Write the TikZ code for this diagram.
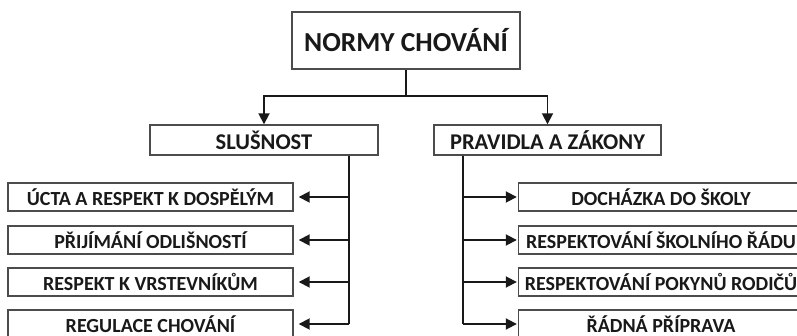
\documentclass[tikz,border=0pt]{standalone}
\usepackage{fontspec}
\setmainfont{Carlito}
\usetikzlibrary{arrows.meta}
\tikzset{
  box/.style={draw=black!70, line width=1.4pt, fill=white, inner sep=0pt, font=\bfseries, text=black!90},
  topbox/.style={box, minimum width=228pt, minimum height=57pt, font=\bfseries\fontsize{27.5}{30}\selectfont},
  midbox/.style={box, minimum width=228pt, minimum height=30pt, font=\bfseries\fontsize{22.5}{24}\selectfont},
  lowbox/.style={box, minimum width=285pt, minimum height=28pt, font=\bfseries\fontsize{20}{22}\selectfont},
  conn/.style={draw=black!90, line width=1.8pt},
  arr/.style={conn, -{Triangle[length=11pt,width=11pt]}},
}
\begin{document}
\begin{tikzpicture}[x=1pt,y=-1pt]
\useasboundingbox (0,0) rectangle (797,336);
\clip (0,0) rectangle (797,336);
\node[topbox] (top) at (406,40.5) {NORMY CHOVÁNÍ};
\node[midbox] (sl) at (264,140) {SLUŠNOST};
\node[midbox, minimum width=227pt] (pr) at (547.5,140) {PRAVIDLA A ZÁKONY};
\node[lowbox] (l1) at (150.5,197) {ÚCTA A RESPEKT K DOSPĚLÝM};
\node[lowbox] (l2) at (150.5,240) {PŘIJÍMÁNÍ ODLIŠNOSTÍ};
\node[lowbox] (l3) at (150.5,282) {RESPEKT K VRSTEVNÍKŮM};
\node[lowbox] (l4) at (150.5,324) {REGULACE CHOVÁNÍ};
\node[lowbox] (r1) at (661,197) {DOCHÁZKA DO ŠKOLY};
\node[lowbox] (r2) at (661,240) {RESPEKTOVÁNÍ ŠKOLNÍHO ŘÁDU};
\node[lowbox] (r3) at (661,282) {RESPEKTOVÁNÍ POKYNŮ RODIČŮ};
\node[lowbox] (r4) at (661,324) {ŘÁDNÁ PŘÍPRAVA};
\coordinate (mid) at (406,96);
\coordinate (lx) at (349,0);
\coordinate (rx) at (463,0);
% top connectors
\draw[conn] (top.south) -- (mid);
\draw[arr] (mid) -| (sl.north);
\draw[arr] (mid) -| (pr.north);
% left column
\draw[conn] (lx |- sl.south) -- (lx |- l4);
\foreach \n in {l1,l2,l3,l4}
  \draw[arr, shorten >=5pt] (lx |- \n) -- (\n.east);
% right column
\draw[conn] (rx |- pr.south) -- (rx |- r4);
\foreach \n in {r1,r2,r3,r4}
  \draw[arr, shorten >=1pt] (rx |- \n) -- (\n.west);
\end{tikzpicture}
\end{document}
